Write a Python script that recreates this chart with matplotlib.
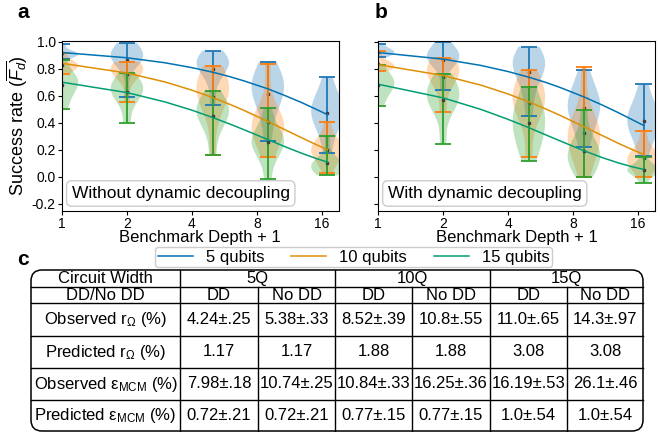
import numpy as np
import matplotlib
matplotlib.use("Agg")
import matplotlib.pyplot as plt
from matplotlib.patches import FancyBboxPatch

plt.rcParams["font.family"] = ["Liberation Sans", "DejaVu Sans"]
plt.rcParams["mathtext.fontset"] = "custom"
plt.rcParams["mathtext.rm"] = "Liberation Sans"
plt.rcParams["mathtext.it"] = "Liberation Sans:italic"
plt.rcParams["mathtext.bf"] = "Liberation Sans:bold"

# -------------------------------
# Data
# -------------------------------
depths = [1, 2, 5, 9, 17]          # benchmark depth + 1
series_names = ["5 qubits", "10 qubits", "15 qubits"]
tick_vals = [1, 2, 4, 8, 16]

# per-circuit success rates, panel a (without DD)
a_5q = [[0.87, 0.89, 0.90, 0.91, 0.91, 0.92, 0.93, 0.98],
        [0.59, 0.84, 0.87, 0.89, 0.90, 0.91, 0.93, 0.99],
        [0.53, 0.70, 0.78, 0.82, 0.84, 0.85, 0.86, 0.88, 0.934],
        [0.263, 0.45, 0.55, 0.60, 0.65, 0.68, 0.72, 0.77, 0.85],
        [0.172, 0.33, 0.40, 0.45, 0.48, 0.51, 0.55, 0.60, 0.737]]
a_10q = [[0.76, 0.79, 0.81, 0.82, 0.83, 0.84, 0.86, 0.92],
         [0.553, 0.72, 0.76, 0.79, 0.80, 0.81, 0.83, 0.85],
         [0.16, 0.45, 0.55, 0.60, 0.64, 0.67, 0.70, 0.75, 0.82],
         [0.147, 0.26, 0.31, 0.35, 0.38, 0.41, 0.44, 0.50, 0.835],
         [0.03, 0.11, 0.15, 0.18, 0.20, 0.22, 0.24, 0.27, 0.408]]
a_15q = [[0.50, 0.58, 0.65, 0.69, 0.71, 0.72, 0.74, 0.865],
         [0.40, 0.55, 0.60, 0.63, 0.66, 0.68, 0.70, 0.77],
         [0.16, 0.33, 0.40, 0.45, 0.48, 0.50, 0.53, 0.56, 0.634],
         [-0.015, 0.15, 0.20, 0.24, 0.26, 0.28, 0.31, 0.36, 0.508],
         [0.01, 0.04, 0.06, 0.07, 0.08, 0.09, 0.11, 0.15, 0.30]]

# panel b (with DD)
b_5q = [[0.885, 0.90, 0.91, 0.92, 0.93, 0.94, 0.95, 0.98],
        [0.644, 0.82, 0.86, 0.88, 0.90, 0.91, 0.93, 0.998],
        [0.452, 0.62, 0.72, 0.78, 0.82, 0.85, 0.87, 0.90, 0.963],
        [0.219, 0.35, 0.42, 0.48, 0.52, 0.56, 0.60, 0.66, 0.79],
        [0.152, 0.28, 0.34, 0.38, 0.42, 0.45, 0.49, 0.55, 0.683]]
b_10q = [[0.786, 0.80, 0.81, 0.82, 0.83, 0.84, 0.86, 0.934],
         [0.477, 0.66, 0.72, 0.76, 0.79, 0.81, 0.84, 0.88],
         [0.147, 0.40, 0.50, 0.52, 0.57, 0.61, 0.65, 0.70, 0.79],
         [0.0, 0.15, 0.22, 0.27, 0.31, 0.34, 0.38, 0.45, 0.816],
         [0.0, 0.06, 0.09, 0.11, 0.13, 0.15, 0.17, 0.21, 0.34]]
b_15q = [[0.526, 0.60, 0.65, 0.68, 0.70, 0.72, 0.75, 0.828],
         [0.245, 0.50, 0.53, 0.58, 0.62, 0.65, 0.68, 0.76],
         [0.118, 0.22, 0.28, 0.35, 0.40, 0.45, 0.50, 0.56, 0.668],
         [0.0, 0.06, 0.10, 0.14, 0.17, 0.20, 0.24, 0.30, 0.496],
         [-0.044, 0.01, 0.03, 0.04, 0.05, 0.06, 0.07, 0.09, 0.147]]

# fitted decay curves
fit_x = [1, 2, 3, 4, 5, 6, 7, 9, 11, 13, 15, 17]
fit_a_5q = [0.920, 0.881, 0.844, 0.808, 0.774, 0.741, 0.709, 0.651, 0.596, 0.547, 0.501, 0.460]
fit_a_10q = [0.840, 0.768, 0.702, 0.641, 0.586, 0.536, 0.490, 0.409, 0.342, 0.286, 0.239, 0.200]
fit_a_15q = [0.700, 0.623, 0.554, 0.493, 0.438, 0.390, 0.347, 0.275, 0.217, 0.172, 0.136, 0.108]
fit_b_5q = [0.920, 0.871, 0.824, 0.779, 0.737, 0.698, 0.660, 0.591, 0.529, 0.474, 0.424, 0.380]
fit_b_10q = [0.830, 0.750, 0.678, 0.613, 0.554, 0.501, 0.453, 0.370, 0.303, 0.247, 0.202, 0.165]
fit_b_15q = [0.685, 0.584, 0.498, 0.425, 0.363, 0.309, 0.264, 0.192, 0.140, 0.102, 0.074, 0.054]

# table
col_groups = ["5Q", "10Q", "15Q"]
dd_labels = ["DD", "No DD"]
row_labels = [r"Observed r$_\mathregular{Ω}$ (%)",
              r"Predicted r$_\mathregular{Ω}$ (%)",
              r"Observed ε$_\mathregular{MCM}$ (%)",
              r"Predicted ε$_\mathregular{MCM}$ (%)"]
obs_r = ["4.24±.25", "5.38±.33", "8.52±.39", "10.8±.55", "11.0±.65", "14.3±.97"]
pred_r = ["1.17", "1.17", "1.88", "1.88", "3.08", "3.08"]
obs_eps = ["7.98±.18", "10.74±.25", "10.84±.33", "16.25±.36", "16.19±.53", "26.1±.46"]
pred_eps = ["0.72±.21", "0.72±.21", "0.77±.15", "0.77±.15", "1.0±.54", "1.0±.54"]

violin_colors = ["#1f77b4", "#ff7f0e", "#2ca02c"]
line_colors = ["#0173b2", "#de8f05", "#029e73"]

# -------------------------------
# Figure
# -------------------------------
fig = plt.figure(figsize=(6.6, 4.32), dpi=100)
ax_a = fig.add_axes([0.094, 0.512, 0.419, 0.393])
ax_b = fig.add_axes([0.573, 0.512, 0.419, 0.393])


def draw_panel(ax, samples, fits, label):
    pos = np.log2(depths)
    for series, c in zip(samples, violin_colors):
        parts = ax.violinplot(series, positions=pos, widths=0.5, showextrema=True)
        for body in parts["bodies"]:
            body.set_facecolor(c)
            body.set_edgecolor("none")
            body.set_alpha(0.3)
        for k in ("cbars", "cmins", "cmaxes"):
            parts[k].set_color(c)
            parts[k].set_linewidth(1.3)
        means = [np.mean(s) for s in series]
        ax.plot(pos, means, ls="none", marker="s", ms=1.6, color="0.25")
    lines = []
    for f, c, name in zip(fits, line_colors, series_names):
        ln, = ax.plot(np.log2(fit_x), f, color=c, lw=1.1, label=name)
        lines.append(ln)
    ax.set_xlim(0, 4.26)
    ax.set_ylim(-0.253, 1.005)
    ax.set_xticks(np.log2(tick_vals))
    ax.set_xticklabels([str(t) for t in tick_vals])
    ax.set_yticks([-0.2, 0.0, 0.2, 0.4, 0.6, 0.8, 1.0])
    ax.tick_params(labelsize=10, length=3, pad=1.5)
    ax.set_xlabel("Benchmark Depth + 1", fontsize=12, labelpad=-1)
    ax.text(0.035, 0.058, label, transform=ax.transAxes, fontsize=12.5,
            va="bottom", ha="left",
            bbox=dict(boxstyle="round,pad=0.3", fc="white", ec="0.8"))
    return lines


lines = draw_panel(ax_a, [a_5q, a_10q, a_15q], [fit_a_5q, fit_a_10q, fit_a_15q],
                   "Without dynamic decoupling")
draw_panel(ax_b, [b_5q, b_10q, b_15q], [fit_b_5q, fit_b_10q, fit_b_15q],
           "With dynamic decoupling")
ax_a.set_ylabel(r"Success rate ($\overline{F_d}$)", fontsize=13, labelpad=1)
ax_a.yaxis.set_major_formatter(matplotlib.ticker.FormatStrFormatter("%.1f"))
ax_b.set_yticklabels([])

fig.legend(handles=lines, loc="upper center", bbox_to_anchor=(0.536, 0.428),
           ncol=3, fontsize=12, handlelength=2.1, columnspacing=1.6,
           borderpad=0.15, borderaxespad=0, handletextpad=0.8, fancybox=True,
           edgecolor="0.8", framealpha=1)

fig.text(0.026, 0.972, "a", fontsize=15, weight="bold", va="center")
fig.text(0.568, 0.972, "b", fontsize=15, weight="bold", va="center")
fig.text(0.026, 0.400, "c", fontsize=15, weight="bold", va="center")

# -------------------------------
# Table (pixel layout)
# -------------------------------
tab = fig.add_axes([0, 0, 1, 1])
tab.set_xlim(0, 660)
tab.set_ylim(432, 0)
tab.axis("off")

col_edges = [31, 180, 258, 335, 412, 490, 567, 643]
row_edges = [270, 287, 303, 336, 368, 400, 431]

box = FancyBboxPatch((col_edges[0], row_edges[0]), col_edges[-1] - col_edges[0],
                     row_edges[-1] - row_edges[0],
                     boxstyle="round,pad=0,rounding_size=11",
                     fc="none", ec="black", lw=1.1)
tab.add_patch(box)
for y in row_edges[1:-1]:
    tab.plot([col_edges[0], col_edges[-1]], [y, y], color="black", lw=1.0)
for i, x in enumerate(col_edges[1:-1]):
    top = row_edges[0] if i % 2 == 0 else row_edges[1]
    tab.plot([x, x], [top, row_edges[-1]], color="black", lw=1.0)

cx = [(col_edges[i] + col_edges[i + 1]) / 2 for i in range(len(col_edges) - 1)]
cy = [(row_edges[i] + row_edges[i + 1]) / 2 for i in range(len(row_edges) - 1)]
fs = 12

tab.text(cx[0], cy[0], "Circuit Width", ha="center", va="center", fontsize=fs)
for g, name in enumerate(col_groups):
    gx = (col_edges[1 + 2 * g] + col_edges[3 + 2 * g]) / 2
    tab.text(gx, cy[0], name, ha="center", va="center", fontsize=fs)

tab.text(cx[0], cy[1], "DD/No DD", ha="center", va="center", fontsize=fs)
for j in range(6):
    tab.text(cx[j + 1], cy[1], dd_labels[j % 2], ha="center", va="center", fontsize=fs)

for r, (lab, vals) in enumerate(zip(row_labels, [obs_r, pred_r, obs_eps, pred_eps])):
    tab.text(cx[0], cy[r + 2], lab, ha="center", va="center", fontsize=fs)
    for j, v in enumerate(vals):
        tab.text(cx[j + 1], cy[r + 2], v, ha="center", va="center", fontsize=fs)

fig.savefig("out.png", dpi=100)
